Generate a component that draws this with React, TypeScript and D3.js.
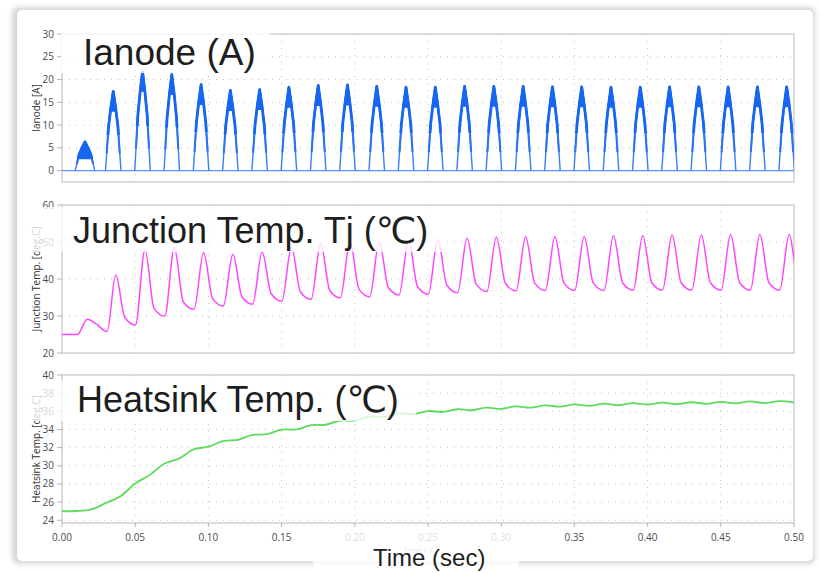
import * as d3 from "d3";
import React from "react";

const W = 820;
const H = 573;

// time axis
const timeTicks = [0, 0.05, 0.1, 0.15, 0.2, 0.25, 0.3, 0.35, 0.4, 0.45, 0.5];

// Ianode: one half-wave pulse per 20 ms cycle
const ianodePeakTimes = [0.0157, 0.035, 0.055, 0.075, 0.095, 0.115, 0.135, 0.155, 0.175, 0.195, 0.215, 0.235, 0.255, 0.275, 0.295, 0.315, 0.335, 0.355, 0.375, 0.395, 0.415, 0.435, 0.455, 0.475, 0.495];
const ianodePeaks = [6.3, 17.4, 21.8, 21.1, 18.9, 17.6, 17.8, 18.3, 18.7, 18.8, 18.5, 18.3, 18.3, 18.5, 18.5, 18.5, 18.4, 18.4, 18.3, 18.3, 18.4, 18.4, 18.4, 18.4, 18.4];
const ianodeHalfWidths = [0.0067, 0.0053, 0.0053, 0.0053, 0.0053, 0.0053, 0.0053, 0.0053, 0.0053, 0.0053, 0.0053, 0.0053, 0.0053, 0.0053, 0.0053, 0.0053, 0.0053, 0.0053, 0.0053, 0.0053, 0.0053, 0.0053, 0.0053, 0.0053, 0.0053];
const ianodeTicks = [0, 5, 10, 15, 20, 25, 30];

// junction temperature: peak and following trough of each cycle
const tjStart = 25;
const tjPeakTimes = [0.0173, 0.0367, 0.0567, 0.0767, 0.0967, 0.1167, 0.1367, 0.1567, 0.1767, 0.1967, 0.2167, 0.2367, 0.2567, 0.2767, 0.2967, 0.3167, 0.3367, 0.3567, 0.3767, 0.3967, 0.4167, 0.4367, 0.4567, 0.4767, 0.4967];
const tjPeaks = [29.1, 41.1, 48.0, 48.5, 47.1, 46.7, 47.3, 48.6, 49.6, 50.1, 50.1, 50.4, 50.7, 51.0, 51.3, 51.4, 51.4, 51.4, 51.7, 51.7, 51.9, 51.9, 52.0, 52.0, 52.0];
const tjTroughs = [25.8, 27.6, 30.0, 31.8, 32.7, 33.2, 34.0, 34.5, 34.9, 35.2, 35.7, 35.9, 36.3, 36.6, 36.8, 36.9, 36.9, 36.9, 37.0, 37.0, 37.0, 37.0, 37.0, 37.0, 37.0];
const tjTicks = [20, 30, 40, 50, 60];

// heatsink temperature, sampled every 10 ms (ripple included)
const hsValues = [25.0, 25.02, 25.2, 25.9, 26.65, 28.05, 29.0, 30.25, 30.8, 31.82, 32.1, 32.72, 32.85, 33.4, 33.48, 33.98, 34.0, 34.48, 34.52, 34.98, 34.98, 35.4, 35.38, 35.76, 35.7, 36.03, 35.93, 36.23, 36.12, 36.4, 36.27, 36.54, 36.4, 36.66, 36.51, 36.76, 36.6, 36.84, 36.67, 36.9, 36.73, 36.96, 36.78, 37.0, 36.83, 37.05, 36.87, 37.09, 36.91, 37.13, 36.98];
const hsTicks = [24, 26, 28, 30, 32, 34, 36, 38, 40];

const FONT = "'Open Sans', 'Noto Sans', sans-serif";
const BIG = "'Liberation Sans', Arial, 'DejaVu Sans', sans-serif";

const x = d3.scaleLinear().domain([0, 0.5]).range([62, 794]);

const panels = [
  { id: "ia", top: 34, bottom: 182, domain: [-2.5, 30], ticks: ianodeTicks, title: "Ianode [A]" },
  { id: "tj", top: 205, bottom: 353, domain: [20, 60], ticks: tjTicks, title: "Junction Temp. [deg.C]" },
  { id: "hs", top: 375, bottom: 523, domain: [23.7, 40], ticks: hsTicks, title: "Heatsink Temp. [deg.C]" },
];

function Frame({ p, y }: any) {
  const [x0, x1] = x.range();
  return (
    <g>
      <rect x={x0} y={p.top} width={x1 - x0} height={p.bottom - p.top} fill="#fff" />
      {p.ticks.filter((t: number) => y(t) > p.top + 1 && y(t) < p.bottom - 1).map((t: number) => (
        <line key={t} x1={x0} x2={x1} y1={y(t)} y2={y(t)} stroke="#c2c2c2" strokeDasharray="1 6" />
      ))}
      {timeTicks.slice(1, -1).map((t) => (
        <line key={t} x1={x(t)} x2={x(t)} y1={p.top} y2={p.bottom} stroke="#c2c2c2" strokeDasharray="1 6" />
      ))}
      <rect x={x0} y={p.top} width={x1 - x0} height={p.bottom - p.top} fill="none" stroke="#d0d0d0" strokeWidth={1.5} />
      {p.ticks.map((t: number) => (
        <g key={t}>
          <line x1={57} x2={62} y1={y(t)} y2={y(t)} stroke="#b5b5b5" />
          <text x={54} y={y(t)} dy="0.35em" textAnchor="end" fontSize={10} fill="#4a4a4a" fontFamily={FONT}>{t}</text>
        </g>
      ))}
      <text transform={`translate(39.5,${(p.top + p.bottom) / 2}) rotate(-90)`} textAnchor="middle" fontSize={10} fill="#333" fontFamily={FONT}>{p.title}</text>
      <clipPath id={`clip-${p.id}`}>
        <rect x={x0} y={p.top} width={x1 - x0} height={p.bottom - p.top} />
      </clipPath>
    </g>
  );
}

export default function App() {
  const yIa = d3.scaleLinear().domain(panels[0].domain).range([panels[0].bottom, panels[0].top]);
  const yTj = d3.scaleLinear().domain(panels[1].domain).range([panels[1].bottom, panels[1].top]);
  const yHs = d3.scaleLinear().domain(panels[2].domain).range([panels[2].bottom, panels[2].top]);

  // half-wave pulse outline, a little fuller than a triangle
  const pulseLine = d3.line<[number, number]>().x((d) => x(d[0])).y((d) => yIa(d[1]));
  const pulses = ianodePeakTimes.map((tp, i) => {
    const hw = ianodeHalfWidths[i];
    const pk = ianodePeaks[i];
    return pulseLine([
      [tp - hw, 0],
      [tp - hw * 0.6, pk * 0.56],
      [tp - hw * 0.3, pk * 0.8],
      [tp, pk],
      [tp + hw * 0.3, pk * 0.8],
      [tp + hw * 0.6, pk * 0.56],
      [tp + hw, 0],
    ]) as string;
  });

  // junction temperature points: peak, knee after the drop, then the trough before the next rise
  const tjPts: [number, number][] = [[0, tjStart], [tjPeakTimes[0] - 0.0068, tjStart]];
  tjPeakTimes.forEach((tp, i) => {
    tjPts.push([tp, tjPeaks[i]]);
    tjPts.push([tp + 0.0062, tjTroughs[i] + 2]);
    tjPts.push([tp + 0.0135, tjTroughs[i]]);
  });
  const tjPath = d3.line<[number, number]>().x((d) => x(d[0])).y((d) => yTj(d[1])).curve(d3.curveMonotoneX)(tjPts) as string;

  const hsPath = d3.line<number>().x((_, i) => x(i * 0.01)).y((d) => yHs(d)).curve(d3.curveCatmullRom)(hsValues) as string;

  const fmt = d3.format(".2f");
  const xAxisY = panels[2].bottom;

  return (
    <svg width={W} height={H} style={{ position: "absolute", left: 0, top: 0, background: "#fff" }}>
      <defs>
        <filter id="shadow" x="-5%" y="-5%" width="110%" height="112%">
          <feGaussianBlur stdDeviation="2.5" />
        </filter>
      </defs>
      <rect x={12} y={7} width={803} height={557} rx={6} fill="#d6d6d6" filter="url(#shadow)" />
      <rect x={17} y={10} width={796} height={551} rx={5} fill="#fff" />

      {panels.map((p, i) => (
        <Frame key={p.id} p={p} y={[yIa, yTj, yHs][i]} />
      ))}

      {/* Ianode */}
      <g clipPath="url(#clip-ia)">
        <line x1={x(0)} x2={x(0.5)} y1={yIa(0)} y2={yIa(0)} stroke="#5593f6" strokeWidth={1.2} />
        {pulses.map((d, i) => (
          <g key={i}>
            <clipPath id={`mid-${i}`}>
              <rect x={0} y={0} width={W} height={yIa(ianodePeaks[i] * 0.22)} />
            </clipPath>
            <clipPath id={`upper-${i}`}>
              <rect x={0} y={0} width={W} height={yIa(ianodePeaks[i] * 0.45)} />
            </clipPath>
            <clipPath id={`cap-${i}`}>
              <rect x={0} y={0} width={W} height={yIa(ianodePeaks[i] - Math.min(4.5, ianodePeaks[i] * 0.6))} />
            </clipPath>
            <path d={d} fill="none" stroke="#3a7ff4" strokeWidth={1.4} strokeLinejoin="round" />
            <path d={d} fill="none" stroke="#2a74f3" strokeWidth={2.1} strokeLinejoin="round" clipPath={`url(#mid-${i})`} />
            <path d={d} fill="none" stroke="#1766f2" strokeWidth={2.8} strokeLinejoin="round" clipPath={`url(#upper-${i})`} />
            <path d={d} fill="#1766f2" stroke="#1766f2" strokeWidth={2} clipPath={`url(#cap-${i})`} />
          </g>
        ))}
      </g>

      {/* Junction temperature */}
      <g clipPath="url(#clip-tj)">
        <path d={tjPath} fill="none" stroke="#ff45ff" strokeWidth={1.5} />
      </g>

      {/* Heatsink temperature */}
      <g clipPath="url(#clip-hs)">
        <path d={hsPath} fill="none" stroke="#5cdc5c" strokeWidth={1.8} />
      </g>

      {/* time axis */}
      {timeTicks.map((t) => (
        <g key={t}>
          <line x1={x(t)} x2={x(t)} y1={xAxisY} y2={xAxisY + 4} stroke="#b5b5b5" />
          <text x={x(t)} y={540.5} textAnchor="middle" fontSize={10} fill="#4a4a4a" fontFamily={FONT}>{fmt(t)}</text>
        </g>
      ))}
      <text x={418} y={553} textAnchor="middle" fontSize={8} fill="#777" fontFamily={FONT}>Time / s</text>

      {/* overlay labels */}
      <rect x={61} y={22} width={209} height={51} fill="#fff" fillOpacity={0.82} />
      <text x={83} y={65} fontSize={37} fill="#1e1e1e" fontFamily={BIG}>Ianode (A)</text>

      <rect x={28} y={207} width={417} height={45} fill="#fff" fillOpacity={0.78} />
      <text x={73} y={243} fontSize={36} fill="#1e1e1e" fontFamily={BIG}>Junction Temp. Tj (℃)</text>

      <rect x={28} y={380} width={388} height={41} fill="#fff" fillOpacity={0.78} />
      <text x={77} y={412} fontSize={36} fill="#1e1e1e" fontFamily={BIG}>Heatsink Temp. (℃)</text>

      <rect x={313} y={528} width={206} height={45} fill="#fff" fillOpacity={0.82} />
      <text x={373} y={566} fontSize={24} fill="#1e1e1e" fontFamily={BIG}>Time (sec)</text>
    </svg>
  );
}
